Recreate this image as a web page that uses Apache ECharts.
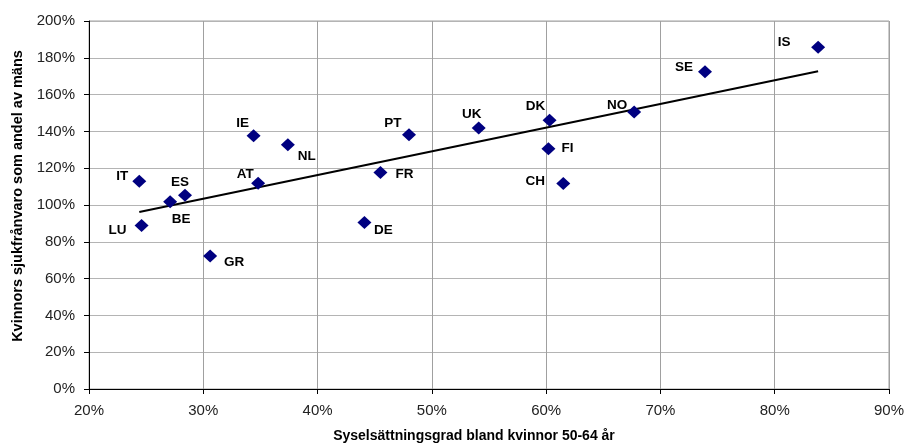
<!DOCTYPE html>
<html>
<head>
<meta charset="utf-8">
<script src="https://cdn.jsdelivr.net/npm/echarts@6/dist/echarts.min.js"></script>
<style>
  html, body { margin: 0; padding: 0; background: #fff; }
  #chart { width: 907px; height: 448px; }
</style>
</head>
<body>
<div id="chart"></div>
<script>
// Country codes
const countries = ['IT', 'LU', 'BE', 'ES', 'GR', 'IE', 'AT', 'NL', 'DE', 'FR', 'PT', 'UK', 'FI', 'DK', 'CH', 'NO', 'SE', 'IS'];
// Employment rate among women aged 50-64 (%)
const employment = [24.4, 24.6, 27.1, 28.4, 30.6, 34.4, 34.8, 37.4, 44.1, 45.5, 48.0, 54.1, 60.2, 60.3, 61.5, 67.7, 73.9, 83.8];
// Women's sickness absence as a share of men's (%)
const sickRatio = [112.9, 88.9, 101.7, 105.3, 72.3, 137.7, 111.8, 132.8, 90.5, 117.6, 138.2, 141.8, 130.6, 146.0, 111.7, 150.6, 172.4, 185.8];
// Axis ticks (%)
const xTicks = [20, 30, 40, 50, 60, 70, 80, 90];
const yTicks = [0, 20, 40, 60, 80, 100, 120, 140, 160, 180, 200];

// Label offsets (px) from each marker, keyed by country code
const labelOffset = {
  IT: [-17, -5], LU: [-24, 5], BE: [11, 17], ES: [-5, -13], GR: [24, 6],
  IE: [-11, -12], AT: [-13, -9], NL: [19, 12], DE: [19, 8], FR: [24, 2],
  PT: [-16, -11], UK: [-7, -14], FI: [19, 0], DK: [-14, -14], CH: [-28, -2],
  NO: [-17, -7], SE: [-21, -5], IS: [-34, -5]
};

// Least-squares linear trend across the data range
const n = employment.length;
const mx = employment.reduce((a, b) => a + b, 0) / n;
const my = sickRatio.reduce((a, b) => a + b, 0) / n;
let sxy = 0, sxx = 0;
for (let i = 0; i < n; i++) {
  sxy += (employment[i] - mx) * (sickRatio[i] - my);
  sxx += (employment[i] - mx) * (employment[i] - mx);
}
const slope = sxy / sxx;
const intercept = my - slope * mx;
const xMin = Math.min(...employment), xMax = Math.max(...employment);
const trend = [[xMin, intercept + slope * xMin], [xMax, intercept + slope * xMax]];

const points = countries.map((c, i) => ({
  value: [employment[i], sickRatio[i]],
  name: c,
  label: { offset: labelOffset[c] }
}));

const font = 'Liberation Sans, Arial, sans-serif';
const chart = echarts.init(document.getElementById('chart'), null, { renderer: 'canvas' });
chart.setOption({
  animation: false,
  backgroundColor: '#ffffff',
  grid: { left: 89, right: 16, top: 21, bottom: 57, show: true, borderColor: '#a0a0a0', borderWidth: 1, containLabel: false },
  xAxis: {
    type: 'value', min: xTicks[0], max: xTicks[xTicks.length - 1], interval: 10,
    name: 'Syselsättningsgrad bland kvinnor 50-64 år',
    nameLocation: 'middle', nameGap: 40,
    nameTextStyle: { fontFamily: font, fontWeight: 'bold', fontSize: 14, color: '#000', padding: [0, 30, 0, 0] },
    axisLine: { show: true, onZero: false, lineStyle: { color: '#000', width: 1 } },
    axisTick: { show: true, length: 5, lineStyle: { color: '#000' } },
    axisLabel: { fontFamily: font, fontSize: 15, color: '#222', margin: 14, formatter: v => v + '%' },
    splitLine: { show: true, lineStyle: { color: '#a0a0a0', width: 1 } }
  },
  yAxis: {
    type: 'value', min: yTicks[0], max: yTicks[yTicks.length - 1], interval: 20,
    name: 'Kvinnors sjukfrånvaro som andel av mäns',
    nameLocation: 'middle', nameGap: 64, nameRotate: 90,
    nameTextStyle: { fontFamily: font, fontWeight: 'bold', fontSize: 14.5, color: '#000', padding: [0, 0, 0, 18] },
    axisLine: { show: true, onZero: false, lineStyle: { color: '#000', width: 1 } },
    axisTick: { show: true, length: 5, lineStyle: { color: '#000' } },
    axisLabel: { fontFamily: font, fontSize: 15, color: '#222', margin: 14, formatter: v => v + '%' },
    splitLine: { show: true, lineStyle: { color: '#b4b4b4', width: 1 } }
  },
  series: [
    {
      type: 'line',
      data: trend,
      symbol: 'none',
      silent: true,
      lineStyle: { color: '#000', width: 2 },
      z: 2
    },
    {
      type: 'scatter',
      data: points,
      symbol: 'diamond',
      symbolSize: [14, 13],
      itemStyle: { color: '#000080', opacity: 1 },
      label: {
        show: true,
        position: 'inside',
        formatter: p => p.name,
        fontFamily: font, fontWeight: 'bold', fontSize: 13.5, color: '#000',
        textBorderWidth: 0,
        align: 'center', verticalAlign: 'middle'
      },
      z: 3
    }
  ]
});
</script>
</body>
</html>
